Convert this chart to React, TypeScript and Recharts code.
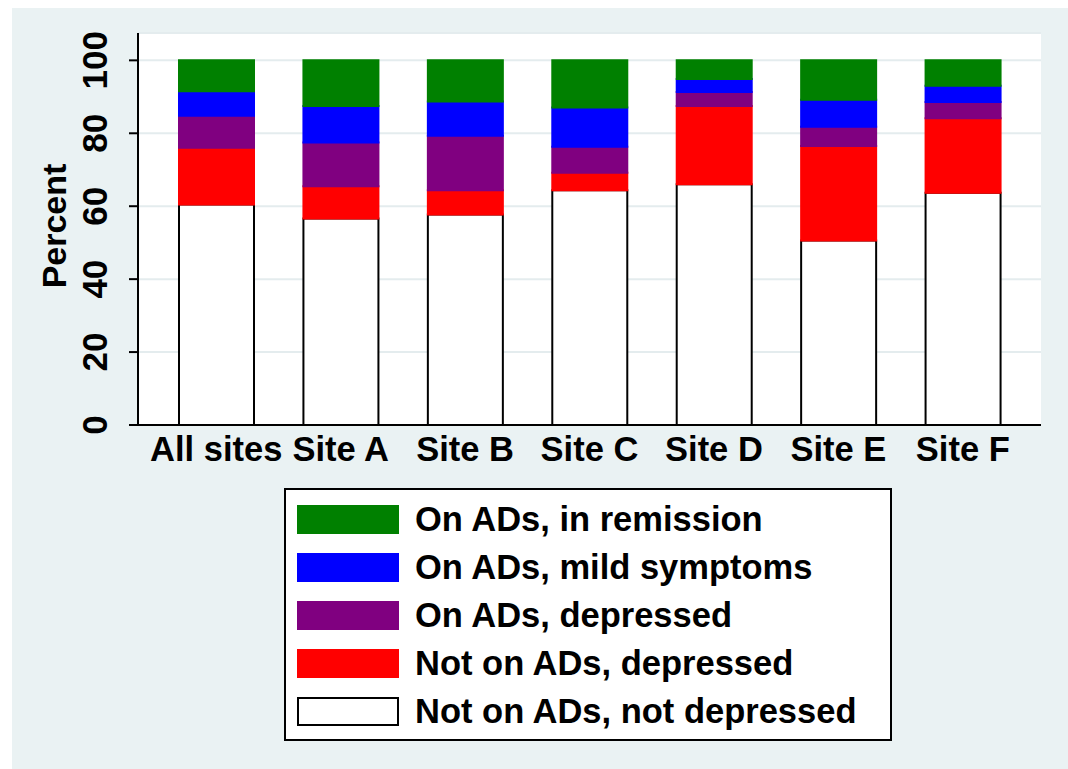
import React from "react";
import { BarChart, Bar, XAxis, YAxis, CartesianGrid, Legend } from "recharts";

// Sites along the x axis
const SITES = ["All sites", "Site A", "Site B", "Site C", "Site D", "Site E", "Site F"];

// Percent of patients per site, bottom of the stack first
const NOT_ON_NOT_DEPRESSED = [60.5, 56.6, 57.7, 64.4, 66.0, 50.6, 63.7];
const NOT_ON_DEPRESSED = [15.5, 8.9, 6.7, 4.8, 21.5, 25.9, 20.4];
const ON_DEPRESSED = [8.8, 12.0, 14.9, 7.1, 3.8, 5.3, 4.5];
const ON_MILD = [6.7, 10.0, 9.4, 10.8, 3.6, 7.4, 4.4];
const ON_REMISSION = [8.5, 12.5, 11.3, 12.9, 5.1, 10.8, 7.0];

const Y_TICKS = [0, 20, 40, 60, 80, 100];

const FONT = "'Liberation Sans', Arial, sans-serif";
const BG = "#eaf2f3";

const SERIES = [
  { key: "notOnNotDep", name: "Not on ADs, not depressed", values: NOT_ON_NOT_DEPRESSED, fill: "#ffffff", stroke: "#000000" },
  { key: "notOnDep", name: "Not on ADs, depressed", values: NOT_ON_DEPRESSED, fill: "#ff0000", stroke: "#ff0000" },
  { key: "onDep", name: "On ADs, depressed", values: ON_DEPRESSED, fill: "#800080", stroke: "#800080" },
  { key: "onMild", name: "On ADs, mild symptoms", values: ON_MILD, fill: "#0000ff", stroke: "#0000ff" },
  { key: "onRemission", name: "On ADs, in remission", values: ON_REMISSION, fill: "#008000", stroke: "#008000" },
];

const data = SITES.map((site, i) => {
  const row: Record<string, string | number> = { site };
  SERIES.forEach((s) => {
    row[s.key] = s.values[i];
  });
  return row;
});

// rotated y tick labels, stata style
function YTick(props: any) {
  const { x, y, payload } = props;
  return (
    <text
      x={x}
      y={y}
      transform={`rotate(-90, ${x}, ${y})`}
      textAnchor="middle"
      fontFamily={FONT}
      fontWeight="bold"
      fontSize={35}
      fill="#000"
    >
      {payload.value}
    </text>
  );
}

function LegendBox() {
  const rows = [...SERIES].reverse();
  return (
    <div
      style={{
        width: 604,
        height: 249,
        border: "2px solid #000",
        background: "#fff",
        position: "relative",
        fontFamily: FONT,
      }}
    >
      {rows.map((s, i) => (
        <div
          key={s.key}
          style={{
            position: "absolute",
            left: 11,
            top: 13 + i * 48,
            height: 32,
            display: "flex",
            alignItems: "center",
          }}
        >
          <div
            style={{
              width: 102,
              height: 29,
              boxSizing: "border-box",
              background: s.fill,
              border: s.fill === "#ffffff" ? "2px solid #000" : "none",
            }}
          />
          <span
            style={{
              marginLeft: 16,
              fontSize: 34.5,
              fontWeight: "bold",
              color: "#000",
              whiteSpace: "nowrap",
            }}
          >
            {s.name}
          </span>
        </div>
      ))}
    </div>
  );
}

export default function App() {
  return (
    <div
      style={{
        position: "absolute",
        left: 12,
        top: 8,
        width: 1056,
        height: 761,
        background: BG,
        overflow: "hidden",
      }}
    >
      <BarChart
        width={1056}
        height={761}
        data={data}
        margin={{ top: 25, right: 27, bottom: 0, left: 0 }}
        barSize={75}
      >
        <CartesianGrid vertical={false} stroke="#e4ecee" strokeWidth={2} fill="#ffffff" />
        <XAxis
          dataKey="site"
          axisLine={{ stroke: "#000", strokeWidth: 2 }}
          tickLine={false}
          tickSize={6}
          tickMargin={6}
          height={344}
          padding={{ left: 16, right: 16 }}
          interval={0}
          tick={{ fontFamily: FONT, fontWeight: "bold", fontSize: 34.5, fill: "#000" }}
        />
        <YAxis
          width={126}
          domain={[0, 107.5]}
          ticks={Y_TICKS}
          allowDataOverflow
          axisLine={{ stroke: "#000", strokeWidth: 2 }}
          tickLine={{ stroke: "#000", strokeWidth: 2 }}
          tickSize={9}
          tickMargin={22}
          tick={<YTick />}
          label={(props: any) => {
            const vb = props.viewBox;
            const cx = vb.x + 54;
            const cy = 218;
            return (
              <text
                x={cx}
                y={cy}
                transform={`rotate(-90, ${cx}, ${cy})`}
                textAnchor="middle"
                fontFamily={FONT}
                fontWeight="bold"
                fontSize={34}
                fill="#000"
              >
                Percent
              </text>
            );
          }}
        />
        <Legend
          layout="vertical"
          align="center"
          verticalAlign="middle"
          wrapperStyle={{ left: 272, top: 480, width: 608 }}
          content={() => <LegendBox />}
        />
        {SERIES.map((s) => (
          <Bar
            key={s.key}
            dataKey={s.key}
            name={s.name}
            stackId="a"
            fill={s.fill}
            stroke={s.stroke}
            strokeWidth={2}
            isAnimationActive={false}
          />
        ))}
      </BarChart>
    </div>
  );
}
